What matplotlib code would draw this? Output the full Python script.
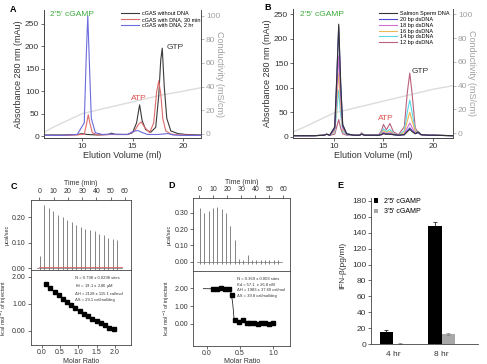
import matplotlib
matplotlib.use("Agg")
import matplotlib.pyplot as plt
from matplotlib.ticker import FormatStrFormatter

plt.rcParams['font.family'] = ['Liberation Sans', 'DejaVu Sans']

# ---- datos panel A (cromatograma) ----
xa_sin = [6.2, 8.0, 9.5, 10.0, 10.5, 11.5, 12.6, 12.9, 13.3, 14.5, 15.0, 15.4, 15.7, 15.95, 16.3, 16.8,
          17.3, 17.6, 17.8, 17.95, 18.15, 18.4, 18.8, 19.5, 20.3, 21.8]
ya_sin = [3, 3, 4, 6, 4, 3, 4, 7, 4, 4, 8, 30, 70, 35, 15, 9, 20, 90, 170, 196, 110, 40, 12, 6, 4, 3]
xa_30 = [6.2, 8.0, 9.5, 10.2, 10.45, 10.6, 10.75, 11.0, 11.5, 12.8, 14.5, 15.2, 15.6, 15.85, 16.2, 16.7,
         17.1, 17.4, 17.6, 17.8, 18.0, 18.3, 18.8, 19.5, 21.8]
ya_30 = [2, 2, 3, 5, 30, 48, 30, 8, 3, 4, 4, 12, 27, 32, 20, 8, 30, 100, 123, 95, 40, 12, 5, 3, 2]
xa_2h = [6.2, 8.0, 9.5, 10.2, 10.4, 10.55, 10.7, 10.9, 11.3, 12.0, 12.8, 14.5, 15.0, 15.5, 16.0, 16.5,
         17.5, 18.5, 19.0, 20.0, 21.8]
ya_2h = [2, 2, 4, 30, 180, 268, 170, 40, 8, 4, 5, 4, 10, 13, 8, 4, 4, 6, 3, 2, 2]
xa_cond = [6.2, 7, 8, 9, 10, 12, 14, 16, 18, 20, 21.8]
ya_cond = [1, 5, 9, 13, 17, 21, 25, 29, 33, 36, 39]

# ---- datos panel B ----
xb = [5.9, 8.0, 9.0, 9.3, 9.6, 10.1, 10.3, 10.5, 10.7, 10.9, 11.3, 12.0, 12.6, 12.8, 13.1, 14.5,
      14.8, 15.0, 15.3, 15.65, 16.0, 16.5, 17.1, 17.4, 17.65, 17.9, 18.2, 18.5, 18.8, 19.5, 20.0, 22.0]
yb_salmon = [2, 2, 3, 5, 3, 20, 120, 230, 110, 25, 6, 3, 3, 5, 3, 3, 4, 6, 5, 5, 4, 3, 4, 10, 15, 10, 6, 10, 4, 3, 3, 2]
yb_20 = [2, 2, 3, 5, 3, 18, 115, 225, 105, 22, 6, 3, 3, 5, 3, 3, 4, 7, 5, 6, 4, 3, 4, 12, 18, 12, 6, 8, 4, 3, 3, 2]
yb_18 = [2, 2, 3, 5, 3, 15, 90, 165, 80, 18, 5, 3, 3, 6, 3, 3, 5, 9, 6, 8, 5, 3, 5, 18, 28, 18, 7, 8, 4, 3, 3, 2]
yb_16 = [2, 2, 3, 5, 3, 12, 70, 130, 62, 14, 5, 3, 3, 6, 3, 3, 6, 12, 8, 11, 6, 3, 8, 32, 50, 32, 10, 8, 4, 3, 3, 2]
yb_14 = [2, 2, 3, 5, 3, 10, 52, 95, 45, 11, 4, 3, 3, 7, 3, 3, 8, 16, 10, 15, 7, 3, 12, 50, 75, 48, 12, 8, 4, 3, 3, 2]
yb_12 = [2, 2, 3, 5, 3, 5, 20, 35, 17, 6, 3, 3, 3, 8, 3, 3, 12, 25, 14, 27, 10, 4, 20, 90, 130, 85, 18, 8, 4, 3, 3, 2]
xb_cond = [5.9, 7, 8, 9, 10, 12, 14, 16, 18, 20, 22]
yb_cond = [1, 5, 9, 13, 17, 21, 25, 29, 33, 37, 40]

# ---- datos panel C (ITC) ----
c_t_iny = [0.5, 3.5, 6.7, 9.9, 13.1, 16.3, 19.5, 22.7, 25.9, 29.1, 32.3, 35.5, 38.7, 41.9, 45.1, 48.3, 51.5, 54.7]
c_pico = [0.048, 0.25, 0.235, 0.225, 0.21, 0.20, 0.19, 0.18, 0.17, 0.163, 0.155, 0.15, 0.145, 0.135, 0.13,
          0.12, 0.115, 0.11]
c_ratio = [0.12, 0.23, 0.35, 0.46, 0.58, 0.69, 0.81, 0.92, 1.04, 1.15, 1.27, 1.38, 1.50, 1.61, 1.73, 1.85, 1.97]
c_kcal = [1.72, 1.58, 1.44, 1.32, 1.19, 1.07, 0.95, 0.84, 0.73, 0.63, 0.54, 0.45, 0.37, 0.30, 0.23, 0.12, 0.07]
c_texto = ["N = 0.798 \u00b1 0.0298 sites", "K$_d$ = 19.1 \u00b1 2.86 \u00b5M",
           "\u0394H = 2128 \u00b1 115.1 cal/mol", "\u0394S = 29.1 cal/mol/deg"]

# ---- datos panel D (ITC) ----
d_t_iny = [0.5, 3.6, 6.7, 9.8, 12.9, 16.0, 19.1, 22.2, 25.3, 28.4, 31.5, 34.6, 37.7, 40.8, 43.9, 47.0,
           50.1, 53.2, 56.3]
d_pico = [0.33, 0.30, 0.31, 0.33, 0.335, 0.32, 0.30, 0.22, 0.13, 0.015, 0.01, 0.04, 0.012, 0.01, 0.012,
          0.01, 0.01, 0.01, 0.01]
d_ratio = [0.10, 0.16, 0.22, 0.28, 0.33, 0.38, 0.43, 0.48, 0.54, 0.60, 0.65, 0.71, 0.77, 0.82, 0.88, 0.94, 1.00]
d_kcal = [1.95, 1.95, 2.02, 1.97, 1.95, 1.62, 0.22, 0.12, 0.20, 0.05, 0.05, 0.08, 0.02, 0.05, 0.08, 0.02, 0.06]
d_ajuste_x = [-0.05, 0.33, 0.36, 0.39, 0.41, 0.44, 1.0]
d_ajuste_y = [1.98, 1.96, 1.85, 1.2, 0.35, 0.12, 0.07]
d_texto = ["N = 0.369 \u00b1 0.003 sites", "Kd = 57.1  \u00b1 26.8 nM",
           "\u0394H = 1983 \u00b1 37.60 cal/mol", "\u0394S = 39.8 cal/mol/deg"]

# ---- datos panel E ----
e_tiempos = ["4 hr", "8 hr"]
e_25 = [16, 148]
e_25_err = [2, 5]
e_35 = [1, 13]
e_35_err = [0.4, 1]

W, H = 487, 364


def caja(l, t, r, b):
    return [l / W, 1 - b / H, (r - l) / W, (b - t) / H]


def ticks(ax, size=6):
    ax.tick_params(direction='out', length=2, width=0.5, labelsize=size, pad=1.5,
                   colors='#333333')
    for s in ax.spines.values():
        s.set_linewidth(0.6)
        s.set_color('#444444')


fig = plt.figure(figsize=(W / 100, H / 100), dpi=100)

gris = '#a0a0a0'

# ================= A =================
axA = fig.add_axes(caja(44, 10, 201, 138))
axA2 = axA.twinx()
axA2.plot(xa_cond, ya_cond, color='#dcdcdc', lw=1.0)
axA.set_zorder(axA2.get_zorder() + 1)
axA.patch.set_visible(False)
l1, = axA.plot(xa_sin, ya_sin, color='#3a3a3a', lw=0.8, label='cGAS without DNA')
l2, = axA.plot(xa_30, ya_30, color='#e06b6b', lw=0.8, label='cGAS with DNA, 30 min')
l3, = axA.plot(xa_2h, ya_2h, color='#6b6bdc', lw=0.8, label='cGAS with DNA, 2 hr')
axA.set_xlim(6.2, 21.8)
axA.set_ylim(-3.8, 281)
axA2.set_ylim(-3.7, 105)
axA.set_xticks([10, 15, 20])
axA.set_yticks([0, 50, 100, 150, 200, 250])
axA2.set_yticks([0, 20, 40, 60, 80, 100])
ticks(axA)
ticks(axA2)
axA2.tick_params(colors=gris)
axA2.spines['right'].set_color(gris)
for a in (axA, axA2):
    a.spines['top'].set_visible(False)
axA.set_xlabel('Elution Volume (ml)', fontsize=6.5, labelpad=0.5, color='#333333')
axA.set_ylabel('Absorbance 280 nm (mAu)', fontsize=6.5, labelpad=1, color='#333333')
axA2.set_ylabel('Conductivity (mS/cm)', fontsize=6.5, color=gris, rotation=270, labelpad=3)
axA.text(6.75, 272, "2'5' cGAMP", color='#3daa3d', fontsize=6, va='center')
axA.text(15.6, 85, 'ATP', color='#e05050', fontsize=6, ha='center', va='center')
axA.text(19.2, 198, 'GTP', color='#333333', fontsize=6, ha='center', va='center')
axA.legend(handles=[l1, l2, l3], loc='upper left', bbox_to_anchor=(121 / W, 1 - 11 / H),
           bbox_transform=fig.transFigure, frameon=False, fontsize=4, handlelength=3.2,
           handletextpad=0.6, labelspacing=0.15, borderpad=0, borderaxespad=0)

# ================= B =================
axB = fig.add_axes(caja(293, 9, 453, 138))
axB2 = axB.twinx()
axB2.plot(xb_cond, yb_cond, color='#dcdcdc', lw=1.0)
axB.set_zorder(axB2.get_zorder() + 1)
axB.patch.set_visible(False)
series_b = [(yb_12, '#b8607a', '12 bp dsDNA'), (yb_14, '#5ad8e6', '14 bp dsDNA'),
            (yb_16, '#e8b85a', '16 bp dsDNA'), (yb_18, '#d070d0', '18 bp dsDNA'),
            (yb_20, '#4a4ad0', '20 bp dsDNA'), (yb_salmon, '#333333', 'Salmon Sperm DNA')]
hb = []
for ys, col, lab in series_b:
    h, = axB.plot(xb, ys, color=col, lw=0.8, label=lab)
    hb.append(h)
axB.set_xlim(5.9, 22)
axB.set_ylim(-2.7, 261)
axB2.set_ylim(-4, 104.5)
axB.set_xticks([10, 15, 20])
axB.set_yticks([0, 50, 100, 150, 200, 250])
axB2.set_yticks([0, 20, 40, 60, 80, 100])
ticks(axB)
ticks(axB2)
axB2.tick_params(colors=gris)
axB2.spines['right'].set_color(gris)
for a in (axB, axB2):
    a.spines['top'].set_visible(False)
axB.set_xlabel('Elution Volume (ml)', fontsize=6.5, labelpad=0.5, color='#333333')
axB.set_ylabel('Absorbance 280 nm (mAu)', fontsize=6.5, labelpad=1, color='#333333')
axB2.set_ylabel('Conductivity (mS/cm)', fontsize=6.5, color=gris, rotation=270, labelpad=3)
axB.text(6.6, 250, "2'5' cGAMP", color='#3daa3d', fontsize=6, va='center')
axB.text(15.2, 37.5, 'ATP', color='#e05050', fontsize=6, ha='center', va='center')
axB.text(18.7, 133, 'GTP', color='#333333', fontsize=6, ha='center', va='center')
axB.legend(handles=hb[::-1], loc='upper left', bbox_to_anchor=(379 / W, 1 - 11 / H),
           bbox_transform=fig.transFigure, frameon=False, fontsize=4, handlelength=3.2,
           handletextpad=0.6, labelspacing=0.15, borderpad=0, borderaxespad=0)


# ================= C y D (ITC) =================
def itc(caja_sup, caja_inf, tiempos, picos, xlim_t, ylim_s, yt_s, ratio, kcal, xlim_r, ylim_i, xt_i,
        texto, tx, ty, ajuste=None, rojo=False):
    s = fig.add_axes(caja_sup)
    i = fig.add_axes(caja_inf)
    s.vlines(tiempos, -0.012, picos, color='#707070', lw=0.6)
    s.plot([tiempos[0] - 2, tiempos[-1] + 3], [0, 0], color='#707070', lw=0.5)
    if rojo:
        s.plot([tiempos[0] - 1, tiempos[-1] + 3], [0.003, 0.003], color='#e06060', lw=0.6)
    s.set_xlim(*xlim_t)
    s.set_ylim(*ylim_s)
    s.xaxis.tick_top()
    s.xaxis.set_label_position('top')
    s.set_xticks([0, 10, 20, 30, 40, 50, 60])
    s.set_yticks(yt_s)
    s.yaxis.set_major_formatter(FormatStrFormatter('%.2f'))
    s.set_xlabel('Time (min)', fontsize=5, labelpad=2, color='#333333')
    s.set_ylabel('\u00b5cal/sec', fontsize=4, labelpad=2, color='#333333')
    ticks(s, 5)
    i.plot(ratio, kcal, 's', color='black', ms=2.3)
    if ajuste is None:
        i.plot(ratio, kcal, color='black', lw=0.5)
    else:
        i.plot(ajuste[0], ajuste[1], color='black', lw=0.5)
    i.set_xlim(*xlim_r)
    i.set_ylim(*ylim_i)
    i.set_xticks(xt_i)
    i.set_yticks([0, 1, 2])
    i.xaxis.set_major_formatter(FormatStrFormatter('%.1f'))
    i.yaxis.set_major_formatter(FormatStrFormatter('%.2f'))
    ticks(i, 5)
    i.tick_params(axis='x', pad=1)
    i.set_xlabel('Molar Ratio', fontsize=5, labelpad=1, color='#333333')
    i.set_ylabel('kcal mol$^{-1}$ of injectant', fontsize=4, labelpad=2, color='#333333')
    i.text(tx, ty, '\n'.join(texto), fontsize=3, va='top', ha='left', linespacing=1.5,
           transform=fig.transFigure, color='#333333')
    return s, i


itc(caja(30.7, 200, 130.7, 270), caja(30.7, 270, 130.7, 345), c_t_iny, c_pico, (-6, 64),
    (-0.007, 0.268), [0, 0.1, 0.2], c_ratio, c_kcal, (-0.3, 2.43), (-0.52, 2.25),
    [0, 0.5, 1.0, 1.5, 2.0], c_texto, 75 / W, 1 - 276 / H, rojo=True)

itc(caja(193.3, 198.3, 290, 270.7), caja(193.3, 270.7, 290, 345.7), d_t_iny, d_pico, (-4.3, 64.8),
    (-0.055, 0.388), [0, 0.1, 0.2, 0.3], d_ratio, d_kcal, (-0.2, 1.25), (-1.22, 2.99),
    [0, 0.5, 1.0], d_texto, 237 / W, 1 - 277 / H, ajuste=(d_ajuste_x, d_ajuste_y))

# ================= E =================
axE = fig.add_axes(caja(371, 198.3, 478.3, 344.3))
pos = list(range(len(e_tiempos)))
axE.bar([p - 0.14 for p in pos], e_25, width=0.28, color='black', yerr=e_25_err,
        error_kw=dict(elinewidth=0.5, capsize=1.5, capthick=0.5, ecolor='black'), label="2'5' cGAMP")
axE.bar([p + 0.14 for p in pos], e_35, width=0.28, color='#a8a8a8', yerr=e_35_err,
        error_kw=dict(elinewidth=0.5, capsize=1.5, capthick=0.5, ecolor='#808080'), label="3'5' cGAMP")
axE.set_xlim(-0.46, 1.76)
axE.set_ylim(0, 183)
axE.set_yticks(range(0, 181, 20))
axE.set_xticks(pos)
axE.set_xticklabels(e_tiempos)
ticks(axE, 6)
axE.tick_params(axis='x', length=0, pad=5)
axE.spines['top'].set_visible(False)
axE.spines['right'].set_visible(False)
axE.legend(loc='upper left', bbox_to_anchor=(374 / W, 1 - 198 / H), bbox_transform=fig.transFigure,
           frameon=False, fontsize=5, handlelength=0.6, handleheight=0.6, handletextpad=0.8,
           labelspacing=0.5, borderpad=0, borderaxespad=0)
fig.text(343 / W, 1 - 265 / H, 'IFN-\u03b2(pg/ml)', rotation=90, fontsize=6, ha='center', va='center',
         color='#333333')

# letras de panel
for letra, x, y in [('A', 13, 9), ('B', 268, 7), ('C', 14, 187), ('D', 172, 186), ('E', 340, 185)]:
    fig.text(x / W, 1 - y / H, letra, fontsize=6.5, fontweight='bold', ha='center', va='center')

fig.savefig('out.png', dpi=100)
